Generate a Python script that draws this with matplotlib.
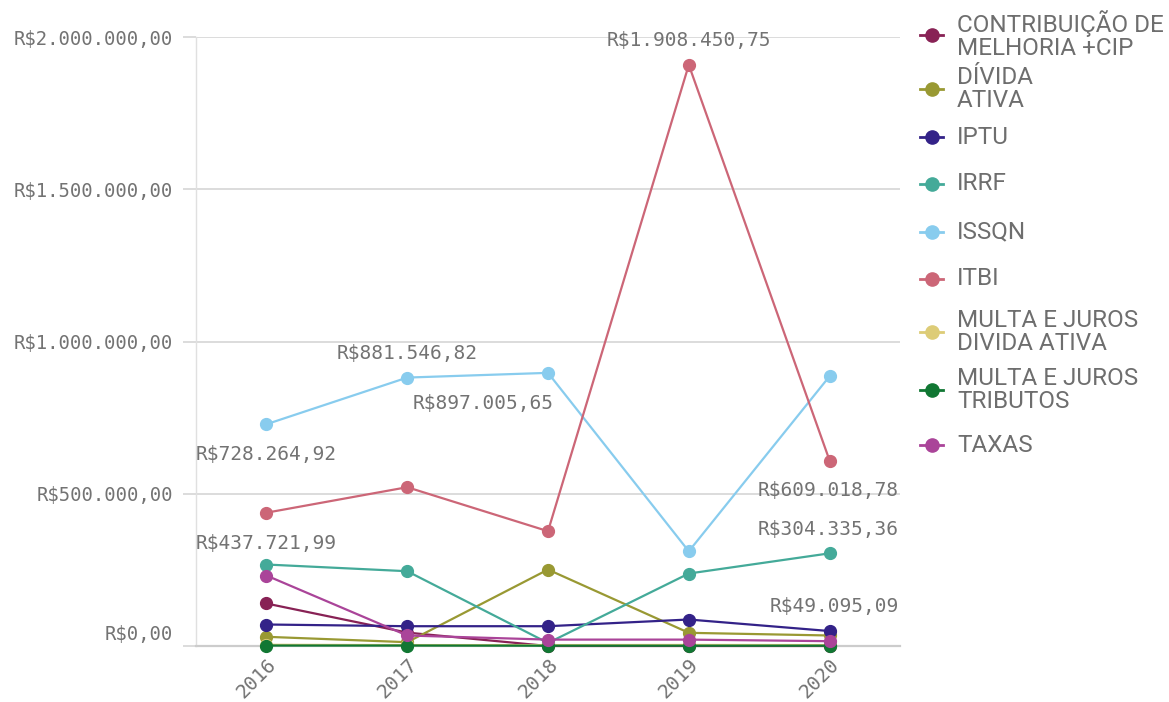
import matplotlib.pyplot as plt
from matplotlib.lines import Line2D
from matplotlib.ticker import FixedLocator
import matplotlib.transforms as mtransforms

anos = [2016, 2017, 2018, 2019, 2020]

contribuicao = [139600, 44000, 0, 0, 0]
divida_ativa = [30200, 12500, 251000, 43300, 34500]
iptu = [70600, 65000, 65000, 87000, 49095.09]
irrf = [267600, 245600, 10000, 238000, 304335.36]
issqn = [728264.92, 881546.82, 897005.65, 311000, 886000]
itbi = [437721.99, 521500, 377000, 1908450.75, 609018.78]
multa_divida = [4000, 3000, 3000, 3500, 3000]
multa_tributos = [1500, 1500, 1000, 1000, 1000]
taxas = [231500, 34500, 21000, 21000, 15800]

nomes = ['CONTRIBUIÇÃO DE\nMELHORIA +CIP', 'DÍVIDA\nATIVA', 'IPTU', 'IRRF', 'ISSQN', 'ITBI',
         'MULTA E JUROS\nDIVIDA ATIVA', 'MULTA E JUROS\nTRIBUTOS', 'TAXAS']
series = [contribuicao, divida_ativa, iptu, irrf, issqn, itbi, multa_divida, multa_tributos, taxas]
cores = ['#882255', '#999933', '#332288', '#44aa99', '#88ccee', '#cc6677', '#ddcc77', '#117733', '#aa4499']

yticks = [0, 500000, 1000000, 1500000, 2000000]

# rotulos de valor: (indice da serie, indice do ano, posicao)
rotulos = [(5, 0, 'below'), (4, 0, 'below'), (4, 1, 'above'), (4, 2, 'below_left'),
           (5, 3, 'above'), (5, 4, 'below'), (3, 4, 'above'), (2, 4, 'above')]


def moeda(v):
    s = f'{v:,.2f}'
    s = s.replace(',', '#').replace('.', ',').replace('#', '.')
    return 'R$' + s


fig = plt.figure(figsize=(11.69, 7.02), dpi=100)
ax = fig.add_axes([196 / 1169, 56 / 702, 704 / 1169, 609 / 702])

cinza_txt = '#737373'
mono = 'DejaVu Sans Mono'

for nome, vals, cor in zip(nomes, series, cores):
    ax.plot(anos, vals, color=cor, lw=1.6, marker='o', markersize=8.5, clip_on=False, zorder=3)

ax.set_xlim(2015.5, 2020.5)
ax.set_ylim(0, 2000000)
ax.yaxis.set_major_locator(FixedLocator(yticks))
ax.set_yticklabels([moeda(v) for v in yticks])
ax.set_xticks(anos)
ax.set_xticklabels([str(a) for a in anos])

ax.grid(axis='y', color='#d9d9d9', lw=1.3)
ax.set_axisbelow(True)
for lado in ['top', 'right']:
    ax.spines[lado].set_visible(False)
ax.spines['left'].set_color('#e0e0e0')
ax.spines['left'].set_linewidth(1.0)
ax.spines['bottom'].set_color('#cccccc')
ax.spines['bottom'].set_linewidth(1.6)

ax.tick_params(axis='y', length=9.4, width=1.3, color='#d9d9d9', pad=7,
               labelsize=13.6, labelcolor=cinza_txt)
ax.tick_params(axis='x', length=0, pad=6, labelsize=14.2, labelcolor=cinza_txt)
for t in ax.get_yticklabels():
    t.set_fontfamily(mono)
for t in ax.get_xticklabels():
    t.set_fontfamily(mono)
    t.set_rotation(45)
    t.set_ha('right')
    t.set_rotation_mode('anchor')

# rotulo do zero sobe um pouco
zero_lbl = ax.get_yticklabels()[0]
zero_lbl.set_transform(zero_lbl.get_transform() + mtransforms.ScaledTranslation(0, 10 / 72, fig.dpi_scale_trans))

# rotulos de valores
for si, ai, pos in rotulos:
    x = anos[ai]
    y = series[si][ai]
    if pos == 'above':
        off, ha, va = (0, 10.5), 'center', 'bottom'
    elif pos == 'below':
        off, ha, va = (0, -15), 'center', 'top'
    else:
        off, ha, va = (4, -15), 'right', 'top'
    if ai == 4:
        ha = 'right'
        off = (50, off[1])
    ax.annotate(moeda(y), (x, y), xytext=off, textcoords='offset points',
                ha=ha, va=va, fontsize=14, color=cinza_txt, family=mono, zorder=5,
                annotation_clip=False)

# legenda manual
leg_y = [35, 89, 137, 184, 232, 279, 332, 390, 445]
for nome, cor, yp in zip(nomes, cores, leg_y):
    yf = 1 - yp / 702
    fig.add_artist(Line2D([920 / 1169, 943 / 1169], [yf, yf], color=cor, lw=2,
                          transform=fig.transFigure))
    fig.add_artist(Line2D([931.5 / 1169], [yf], color=cor, marker='o', markersize=9.5,
                          transform=fig.transFigure))
    fig.text(957 / 1169, yf, nome, ha='left', va='center', fontsize=17.5,
             color='#6e6e6e', family='Roboto', linespacing=0.95)

fig.savefig('out.png', dpi=100)
